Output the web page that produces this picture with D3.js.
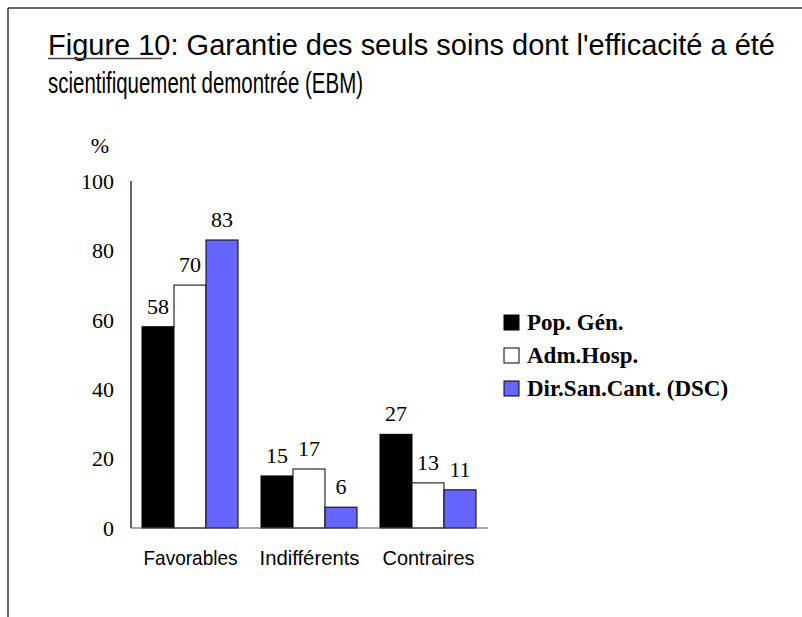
<!DOCTYPE html>
<html>
<head>
<meta charset="utf-8">
<script src="https://cdn.jsdelivr.net/npm/d3@7"></script>
<style>
  body { margin: 0; background: #fff; }
  svg { display: block; }
  .title { font-family: "Liberation Sans", Arial, sans-serif; font-size: 29px; fill: #000; }
  .serif { font-family: "Liberation Serif", "Times New Roman", serif; }
  .cat { font-family: "Liberation Sans", Arial, sans-serif; font-size: 21px; }
</style>
</head>
<body>
<div id="chart"></div>
<script>
// data
const categories = ["Favorables", "Indifférents", "Contraires"];
const seriesNames = ["Pop. Gén.", "Adm.Hosp.", "Dir.San.Cant. (DSC)"];
const popGen = [58, 15, 27];
const admHosp = [70, 17, 13];
const dirSanCant = [83, 6, 11];
const yTicks = [0, 20, 40, 60, 80, 100];
const seriesColors = ["#000000", "#ffffff", "#6666ff"];

const W = 802, H = 617;
const svg = d3.select("#chart").append("svg").attr("width", W).attr("height", H);

// outer frame (top + left edge only visible)
svg.append("line").attr("x1", 8).attr("x2", W).attr("y1", 8).attr("y2", 8).attr("stroke", "#333").attr("stroke-width", 1.5);
svg.append("line").attr("x1", 8).attr("x2", 8).attr("y1", 8).attr("y2", H).attr("stroke", "#333").attr("stroke-width", 1.5);

// title (narrow humanist font in the original -> squeeze Liberation Sans)
svg.append("text").attr("class", "title").attr("x", 48).attr("y", 55)
    .attr("textLength", 727).attr("lengthAdjust", "spacingAndGlyphs")
    .call(t => {
        t.append("tspan").text("Figure 10");
        t.append("tspan").text(": Garantie des seuls soins dont l'efficacité a été");
    });
svg.append("line").attr("x1", 48).attr("x2", 162).attr("y1", 58.5).attr("y2", 58.5)
    .attr("stroke", "#444").attr("stroke-width", 1.5);
svg.append("text").attr("class", "title").attr("x", 48).attr("y", 93)
    .attr("textLength", 315).attr("lengthAdjust", "spacingAndGlyphs")
    .text("scientifiquement demontrée (EBM)");

// scales
const x0 = d3.scaleBand().domain(categories).range([131, 488]).paddingInner(0).paddingOuter(0);
const x1 = d3.scaleBand().domain(seriesNames).range([11, 107]);
const y = d3.scaleLinear().domain([0, 100]).range([528, 181]);

const rows = categories.map((c, i) => ({
    cat: c,
    vals: [popGen[i], admHosp[i], dirSanCant[i]].map((v, j) => ({ series: seriesNames[j], v, color: seriesColors[j] }))
}));

// y axis
svg.append("line").attr("x1", 131).attr("x2", 131).attr("y1", y(100)).attr("y2", y(0)).attr("stroke", "#000").attr("stroke-width", 1.2);
svg.selectAll("text.ytick").data(yTicks).join("text")
    .attr("class", "ytick serif").attr("x", 114).attr("y", d => y(d)).attr("dy", "0.35em")
    .attr("text-anchor", "end").attr("font-size", 22).text(d => d);
svg.append("text").attr("class", "serif").attr("x", 100).attr("y", 145).attr("dy", "0.35em")
    .attr("text-anchor", "middle").attr("font-size", 22).text("%");

// bars
const groups = svg.selectAll("g.grp").data(rows).join("g").attr("class", "grp")
    .attr("transform", d => `translate(${x0(d.cat)},0)`);
groups.selectAll("rect").data(d => d.vals).join("rect")
    .attr("x", d => x1(d.series)).attr("width", x1.bandwidth())
    .attr("y", d => y(d.v)).attr("height", d => y(0) - y(d.v))
    .attr("fill", d => d.color).attr("stroke", "#000").attr("stroke-width", 1);
groups.selectAll("text").data(d => d.vals).join("text")
    .attr("class", "serif").attr("font-size", 22).attr("text-anchor", "middle")
    .attr("x", d => x1(d.series) + x1.bandwidth() / 2).attr("y", d => y(d.v) - 13)
    .text(d => d.v);

// x axis
svg.append("line").attr("x1", 131).attr("x2", 488).attr("y1", y(0)).attr("y2", y(0)).attr("stroke", "#555").attr("stroke-width", 1.2);
const catWidths = [94, 100, 92];
svg.selectAll("text.cat").data(categories).join("text")
    .attr("class", "cat").attr("text-anchor", "middle")
    .attr("x", d => x0(d) + x0.bandwidth() / 2).attr("y", 565)
    .attr("textLength", (d, i) => catWidths[i]).attr("lengthAdjust", "spacingAndGlyphs")
    .text(d => d);

// legend
const legend = svg.append("g").attr("transform", "translate(504,315)");
const items = legend.selectAll("g").data(seriesNames).join("g")
    .attr("transform", (d, i) => `translate(0,${i * 33})`);
items.append("rect").attr("width", 15).attr("height", 15)
    .attr("fill", (d, i) => seriesColors[i]).attr("stroke", "#000").attr("stroke-width", 1);
items.append("text").attr("class", "serif").attr("x", 23).attr("y", 15)
    .attr("font-size", 23).attr("font-weight", "bold").text(d => d);
</script>
</body>
</html>
